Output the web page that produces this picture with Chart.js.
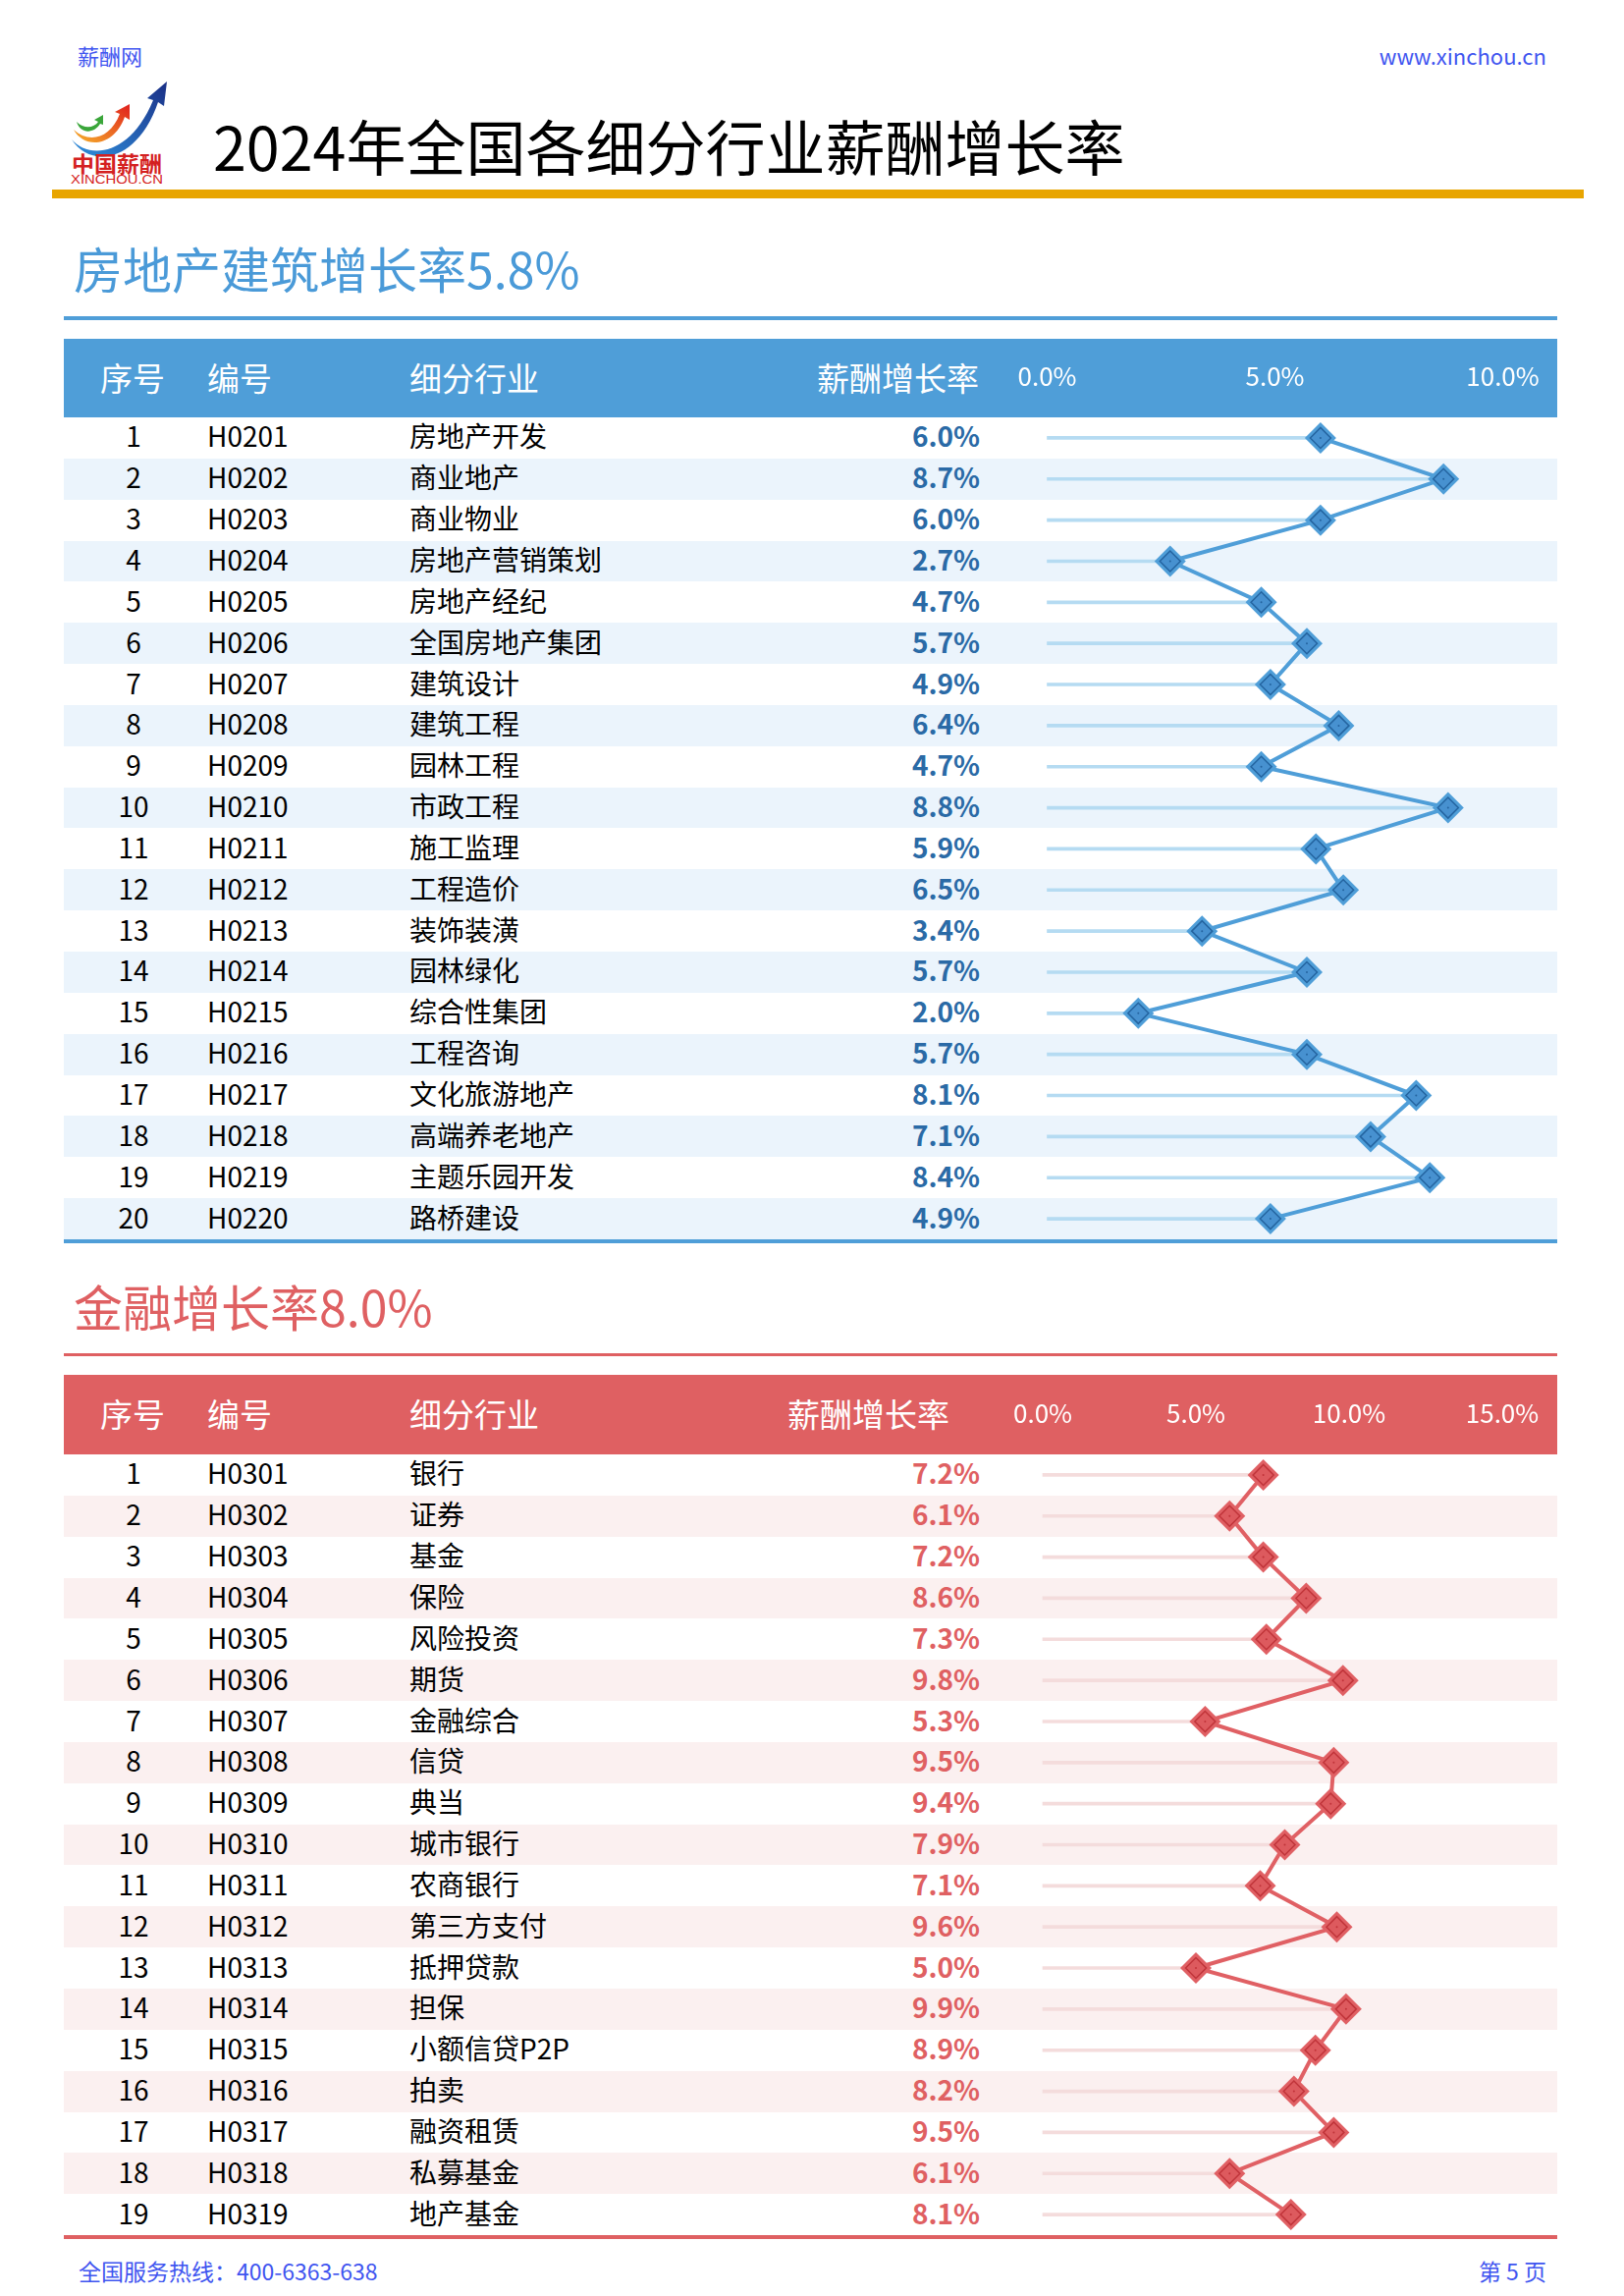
<!DOCTYPE html>
<html lang="zh-CN">
<head>
<meta charset="utf-8">
<title>2024年全国各细分行业薪酬增长率</title>
<script src="https://cdn.jsdelivr.net/npm/chart.js@4.4.1/dist/chart.umd.min.js"></script>
<style>
  html, body { margin: 0; padding: 0; background: #fff; }
  #page {
    position: relative; width: 1654px; height: 2338px; overflow: hidden;
    font-family: "Noto Sans CJK SC", "Noto Sans", sans-serif; color: #000;
  }
  .abs { position: absolute; white-space: nowrap; }
  .link { color: #3f55f0; font-size: 22px; line-height: 24px; }
  .cell { position: absolute; line-height: 1; font-size: 28px; display: flex; align-items: center; white-space: nowrap; }
  .hcell { position: absolute; line-height: 1; font-size: 33px; color: #fff; display: flex; align-items: center; white-space: nowrap; }
  canvas { position: absolute; }
</style>
</head>
<body>
<div id="page">
  <div class="abs link" style="left:79px; top:44px;">薪酬网</div>
  <div class="abs link" style="right:79px; top:44px;">www.xinchou.cn</div>

  <svg class="abs" style="left:70px; top:80px;" width="104" height="110" viewBox="0 0 104 110">
    <defs>
      <linearGradient id="gb" x1="0" y1="1" x2="1" y2="0">
        <stop offset="0" stop-color="#2f8fdc"/>
        <stop offset="1" stop-color="#1a2f86"/>
      </linearGradient>
      <linearGradient id="gr" x1="0" y1="1" x2="1" y2="0">
        <stop offset="0" stop-color="#f6b02a"/>
        <stop offset="1" stop-color="#e0201e"/>
      </linearGradient>
    </defs>
    <path d="M3 62 C 20 82, 62 80, 86 22 L 80 20 L 100 3 L 97 28 L 91 24 C 70 86, 22 92, 3 62 Z" fill="url(#gb)"/>
    <path d="M5 52 C 20 66, 42 62, 52 36 L 47 34 L 62 26 L 62 42 L 57 39 C 46 70, 16 72, 5 52 Z" fill="url(#gr)"/>
    <path d="M8 44 C 16 52, 26 50, 30 44 L 26 42 L 35 37 L 35 47 L 32 46 C 26 56, 12 57, 8 44 Z" fill="#3aa63a"/>
    <text x="49" y="95" text-anchor="middle" font-size="22" font-weight="bold" fill="#d42020" font-family="Noto Sans CJK SC" textLength="92" lengthAdjust="spacingAndGlyphs">中国薪酬</text>
    <text x="49" y="107" text-anchor="middle" font-size="12" fill="#d42020" font-family="Liberation Sans" textLength="94" lengthAdjust="spacingAndGlyphs">XINCHOU.CN</text>
  </svg>

  <div class="abs" style="left:217px; top:110px; font-size:61px; line-height:76px;">2024年全国各细分行业薪酬增长率</div>
  <div class="abs" style="left:53px; top:193px; width:1560px; height:9px; background:#e8a500;"></div>

  <div class="abs link" style="left:80px; top:2300px; font-size:23px;">全国服务热线：400-6363-638</div>
  <div class="abs link" style="right:79px; top:2300px; font-size:23px;">第 5 页</div>
</div>

<script>
// 房地产建筑
const reNums = ["1","2","3","4","5","6","7","8","9","10","11","12","13","14","15","16","17","18","19","20"];
const reCodes = ["H0201","H0202","H0203","H0204","H0205","H0206","H0207","H0208","H0209","H0210",
                 "H0211","H0212","H0213","H0214","H0215","H0216","H0217","H0218","H0219","H0220"];
const reNames = ["房地产开发","商业地产","商业物业","房地产营销策划","房地产经纪","全国房地产集团","建筑设计","建筑工程","园林工程","市政工程",
                 "施工监理","工程造价","装饰装潢","园林绿化","综合性集团","工程咨询","文化旅游地产","高端养老地产","主题乐园开发","路桥建设"];
const reRates = [6.0, 8.7, 6.0, 2.7, 4.7, 5.7, 4.9, 6.4, 4.7, 8.8, 5.9, 6.5, 3.4, 5.7, 2.0, 5.7, 8.1, 7.1, 8.4, 4.9];
const reTicks = [0, 5, 10];

// 金融
const finNums = ["1","2","3","4","5","6","7","8","9","10","11","12","13","14","15","16","17","18","19"];
const finCodes = ["H0301","H0302","H0303","H0304","H0305","H0306","H0307","H0308","H0309","H0310",
                  "H0311","H0312","H0313","H0314","H0315","H0316","H0317","H0318","H0319"];
const finNames = ["银行","证券","基金","保险","风险投资","期货","金融综合","信贷","典当","城市银行",
                  "农商银行","第三方支付","抵押贷款","担保","小额信贷P2P","拍卖","融资租赁","私募基金","地产基金"];
const finRates = [7.2, 6.1, 7.2, 8.6, 7.3, 9.8, 5.3, 9.5, 9.4, 7.9, 7.1, 9.6, 5.0, 9.9, 8.9, 8.2, 9.5, 6.1, 8.1];
const finTicks = [0, 5, 10, 15];

const headerLabels = ["序号", "编号", "细分行业", "薪酬增长率"];

Chart.defaults.font.family = '"Noto Sans CJK SC", "Noto Sans", sans-serif';

const page = document.getElementById("page");
const TABLE_L = 65, TABLE_R = 1586, ROW_H = 41.85;
const CANVAS_L = 1000, CANVAS_R = 1654;

function el(tag, cls, style, text) {
  const d = document.createElement(tag);
  if (cls) d.className = cls;
  Object.assign(d.style, style);
  if (text != null) d.textContent = text;
  page.appendChild(d);
  return d;
}

function buildSection(s) {
  el("div", "abs", { left: "75px", top: (s.titleY - 35) + "px", fontSize: "50px", lineHeight: "64px", color: s.title }, s.titleText);
  el("div", "abs", { left: TABLE_L + "px", top: s.ruleY + "px", width: (TABLE_R - TABLE_L) + "px", height: s.ruleH + "px", background: s.head });
  el("div", "abs", { left: TABLE_L + "px", top: s.headTop + "px", width: (TABLE_R - TABLE_L) + "px", height: s.headH + "px", background: s.head });

  const hy = { top: (s.headTop - 1) + "px", height: s.headH + "px" };
  el("div", "hcell", Object.assign({ left: "102px" }, hy), headerLabels[0]);
  el("div", "hcell", Object.assign({ left: "211px" }, hy), headerLabels[1]);
  el("div", "hcell", Object.assign({ left: "417px" }, hy), headerLabels[2]);
  el("div", "hcell", Object.assign({ right: (1654 - s.rateHeadR) + "px" }, hy), headerLabels[3]);

  const rowTop = s.headTop + s.headH;
  s.rates.forEach((v, i) => {
    const top = rowTop + i * ROW_H;
    if (i % 2 === 1) {
      el("div", "abs", { left: TABLE_L + "px", top: top + "px", height: ROW_H + "px",
                         width: (TABLE_R - TABLE_L) + "px", background: s.stripe });
    }
    const ry = { top: (top - 2.5) + "px", height: ROW_H + "px" };
    el("div", "cell", Object.assign({ left: "100px", width: "72px", justifyContent: "center" }, ry), s.nums[i]);
    el("div", "cell", Object.assign({ left: "211px" }, ry), s.codes[i]);
    el("div", "cell", Object.assign({ left: "417px" }, ry), s.names[i]);
    el("div", "cell", Object.assign({ right: "656px", color: s.value, fontWeight: "bold" }, ry), v.toFixed(1) + "%");
  });
  const bottom = Math.round(rowTop + s.rates.length * ROW_H);
  el("div", "abs", { left: TABLE_L + "px", top: bottom + "px", width: (TABLE_R - TABLE_L) + "px", height: "4px", background: s.head });

  const cv = document.createElement("canvas");
  cv.width = CANVAS_R - CANVAS_L;
  cv.height = bottom - s.headTop;
  cv.style.left = CANVAS_L + "px";
  cv.style.top = s.headTop + "px";
  page.appendChild(cv);

  const ticks = s.ticks;
  new Chart(cv, {
    type: "bar",
    data: {
      labels: s.nums,
      datasets: [
        { type: "bar", data: s.rates, backgroundColor: s.track, barThickness: 3, order: 4 },
        { type: "line", data: s.rates, borderColor: s.line, borderWidth: 4, tension: 0,
          pointStyle: "rectRot", pointRadius: 16, pointBackgroundColor: s.line, pointBorderWidth: 0, order: 3 },
        { type: "line", data: s.rates, showLine: false,
          pointStyle: "rectRot", pointRadius: 10.5, pointBackgroundColor: s.fill,
          pointBorderColor: s.dark, pointBorderWidth: 1.5, order: 2 },
        { type: "line", data: s.rates, showLine: false,
          pointStyle: "circle", pointRadius: 1, pointBackgroundColor: s.dark, pointBorderWidth: 0, order: 1 }
      ]
    },
    options: {
      indexAxis: "y",
      responsive: false,
      animation: false,
      events: [],
      clip: false,
      layout: { autoPadding: false, padding: { left: s.x0 - CANVAS_L, right: CANVAS_R - s.x1, top: 0, bottom: 0 } },
      plugins: { legend: { display: false }, tooltip: { enabled: false } },
      scales: {
        x: {
          type: "linear", position: "top",
          min: ticks[0], max: ticks[ticks.length - 1],
          grid: { display: false, drawTicks: false },
          border: { display: false },
          ticks: { color: "#fff", font: { size: 26 }, padding: 26, maxRotation: 0, autoSkip: false,
                   callback: (v) => Number(v).toFixed(1) + "%" },
          afterBuildTicks: (sc) => { sc.ticks = ticks.map((v) => ({ value: v })); },
          afterFit: (sc) => { sc.height = s.headH; }
        },
        y: { type: "category", display: false, offset: true }
      }
    }
  });
}

buildSection({
  titleText: "房地产建筑增长率5.8%", titleY: 275, ruleY: 322, ruleH: 4,
  headTop: 345, headH: 80, rateHeadR: 997,
  nums: reNums, codes: reCodes, names: reNames, rates: reRates, ticks: reTicks,
  x0: 1066.5, x1: 1530.5,
  title: "#4a9ad8", head: "#4f9ed8", stripe: "#ebf4fc", value: "#2a6aa6",
  track: "#b5dbf2", line: "#4f9ed8", fill: "#4791d0", dark: "#2464a0"
});

buildSection({
  titleText: "金融增长率8.0%", titleY: 1332, ruleY: 1378, ruleH: 3,
  headTop: 1400, headH: 81, rateHeadR: 967,
  nums: finNums, codes: finCodes, names: finNames, rates: finRates, ticks: finTicks,
  x0: 1062, x1: 1530,
  title: "#df6062", head: "#df6062", stripe: "#fbf0f0", value: "#df6062",
  track: "#f4dcdc", line: "#e06064", fill: "#dd5a5e", dark: "#c0343a"
});
</script>
</body>
</html>
